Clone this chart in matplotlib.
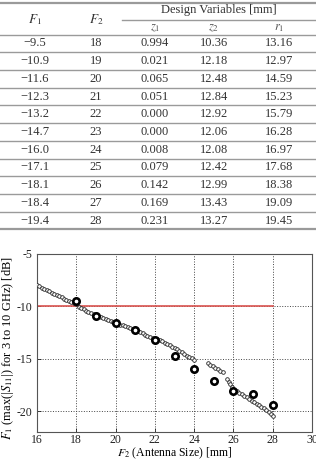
import matplotlib
matplotlib.use("Agg")
import matplotlib.pyplot as plt
from matplotlib.lines import Line2D

plt.rcParams['font.family'] = ['Liberation Serif', 'DejaVu Serif']
plt.rcParams['mathtext.fontset'] = 'stix'
plt.rcParams['axes.unicode_minus'] = False

# ---- table data ----
F1 = [-9.5, -10.9, -11.6, -12.3, -13.2, -14.7, -16.0, -17.1, -18.1, -18.4, -19.4]
F2 = [18, 19, 20, 21, 22, 23, 24, 25, 26, 27, 28]
z1 = [0.994, 0.021, 0.065, 0.051, 0.000, 0.000, 0.008, 0.079, 0.142, 0.169, 0.231]
z2 = [10.36, 12.18, 12.48, 12.84, 12.92, 12.06, 12.08, 12.42, 12.99, 13.43, 13.27]
r1 = [13.16, 12.97, 14.59, 15.23, 15.79, 16.28, 16.97, 17.68, 18.38, 19.09, 19.45]

# ---- small-circle population (F2, F1) ----
pop_x = [16.00, 16.12, 16.25, 16.38, 16.50, 16.62, 16.75, 16.88, 17.00, 17.12, 17.25, 17.38,
         17.50, 17.62, 17.75, 17.88, 18.00,
         18.12, 18.25, 18.38, 18.50, 18.62, 18.75, 18.88, 19.00, 19.12, 19.25, 19.38, 19.50,
         19.62, 19.75, 19.88, 20.00, 20.12, 20.25, 20.38, 20.50, 20.62, 20.75, 20.88, 21.00,
         21.12, 21.25, 21.38, 21.50, 21.62, 21.75, 21.88, 22.00,
         22.12, 22.25, 22.38, 22.50, 22.62, 22.75, 22.88, 23.00, 23.12, 23.25, 23.38, 23.50,
         23.62, 23.75, 23.88, 24.00,
         24.70, 24.82, 24.95, 25.08, 25.20, 25.32, 25.45,
         25.65, 25.75, 25.85, 25.95, 26.05, 26.18, 26.30, 26.42, 26.55, 26.68, 26.80, 26.92,
         27.05, 27.18, 27.30, 27.42, 27.55, 27.68, 27.80, 27.92, 28.02]
pop_y = [-8.00, -8.10, -8.22, -8.35, -8.45, -8.58, -8.70, -8.80, -8.92, -9.02, -9.12, -9.25,
         -9.35, -9.45, -9.55, -9.68, -9.80,
         -10.05, -10.18, -10.30, -10.40, -10.50, -10.62, -10.72, -10.85, -10.95, -11.05, -11.15,
         -11.25, -11.35, -11.42, -11.50, -11.60, -11.68, -11.75, -11.82, -11.90, -12.00, -12.08,
         -12.18, -12.28, -12.38, -12.48, -12.58, -12.70, -12.80, -12.90, -13.00, -13.10,
         -13.15, -13.25, -13.35, -13.48, -13.60, -13.72, -13.85, -13.98, -14.10, -14.25, -14.40,
         -14.55, -14.70, -14.80, -14.92, -15.10,
         -15.45, -15.58, -15.72, -15.85, -16.00, -16.15, -16.30,
         -16.95, -17.20, -17.45, -17.70, -17.95, -18.10, -18.25, -18.40, -18.55, -18.70, -18.85,
         -19.00, -19.15, -19.30, -19.45, -19.60, -19.75, -19.90, -20.10, -20.30, -20.45]

threshold = -10
xticks = [16, 18, 20, 22, 24, 26, 28, 30]
yticks = [-5, -10, -15, -20]

W, H = 316, 459
fig = plt.figure(figsize=(W / 100, H / 100), dpi=100)

# ---------------- table (pixel coordinates) ----------------
tab = fig.add_axes([0, 1 - 236 / H, 1, 236 / H])
tab.set_xlim(0, W)
tab.set_ylim(236, 0)
tab.axis('off')

txt_color = '#333333'
line_color = '#9a9a9a'
fs = 9
col_x = [35, 96, 155, 214, 279]
row0, pitch = 43.5, 17.7

tab.add_line(Line2D([0, W], [2.5, 2.5], color=line_color, lw=1.6))
tab.add_line(Line2D([122, W], [19.5, 19.5], color=line_color, lw=1.0))
tab.add_line(Line2D([0, W], [row0 - pitch / 2, row0 - pitch / 2], color=line_color, lw=1.0))

tab.text(col_x[0], 20, r'$F_1$', ha='center', va='center', fontsize=fs + 0.5, color=txt_color)
tab.text(col_x[1], 20, r'$F_2$', ha='center', va='center', fontsize=fs + 0.5, color=txt_color)
tab.text((122 + W) / 2, 10.5, 'Design Variables [mm]', ha='center', va='center', fontsize=fs, color=txt_color)
for cx, lab in zip(col_x[2:], [r'$z_1$', r'$z_2$', r'$r_1$']):
    tab.text(cx, 28, lab, ha='center', va='center', fontsize=fs, color='#555555')

for i in range(len(F1)):
    y = row0 + i * pitch
    vals = [f'\u2212{abs(F1[i]):.1f}', f'{F2[i]}', f'{z1[i]:.3f}', f'{z2[i]:.2f}', f'{r1[i]:.2f}']
    for cx, v in zip(col_x, vals):
        tab.text(cx, y, v, ha='center', va='center', fontsize=fs, color=txt_color)
    yl = y + pitch / 2
    last = i == len(F1) - 1
    tab.add_line(Line2D([0, W], [yl, yl], color=line_color, lw=1.6 if last else 1.0))

# ---------------- scatter plot ----------------
ax = fig.add_axes([37 / W, 27 / H, 275 / W, 178 / H])
ax.set_xlim(16, 30)
ax.set_ylim(-22, -5)
ax.set_xticks(xticks)
ax.set_yticks(yticks)
ax.grid(True, linestyle=':', color='#444444', lw=0.7)
ax.set_axisbelow(True)
ax.tick_params(direction='in', length=3, labelsize=8.5, colors='#222222', width=0.6)
ax.tick_params(axis='x', pad=1.5)
for s in ax.spines.values():
    s.set_color('#555555')
    s.set_linewidth(0.8)

ax.plot([F2[0] - 2, F2[-1]], [threshold, threshold], color='#d9534f', lw=1.2, zorder=2)
ax.plot(pop_x, pop_y, 'o', ms=2.6, mfc='white', mec='#222222', mew=0.6, zorder=3, linestyle='none')
ax.plot(F2, F1, 'o', ms=4.6, mfc='white', mec='black', mew=1.9, zorder=4, linestyle='none')

ax.set_xlabel(r'$F_2$ (Antenna Size) [mm]', fontsize=8.5, va='top')
ax.xaxis.set_label_coords(0.5, -0.074)
ax.set_ylabel(r'$F_1$ (max(|$S_{11}$|) for 3 to 10 GHz) [dB]', fontsize=9, va='center')
ax.yaxis.set_label_coords(-0.105, 0.47)

fig.savefig('out.png', dpi=100)
